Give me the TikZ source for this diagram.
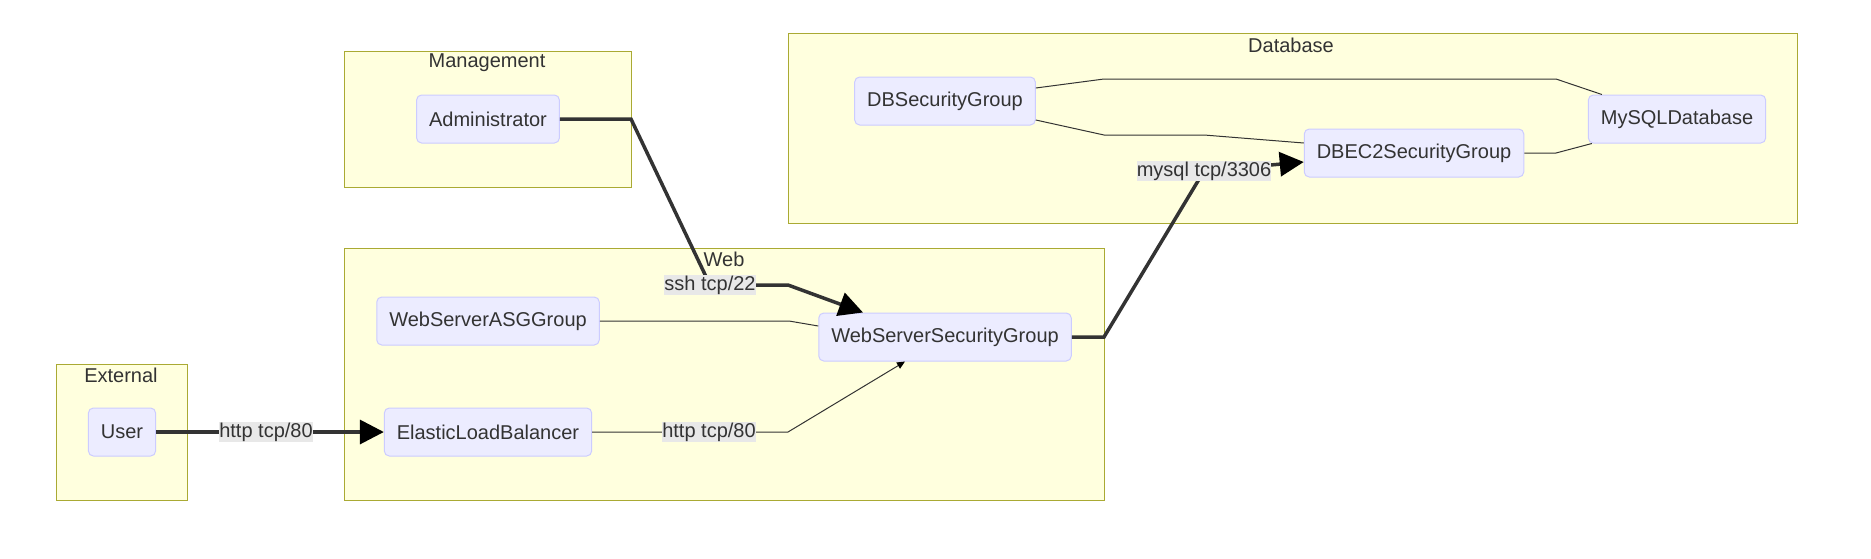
\documentclass[tikz,border=0pt]{standalone}
\usepackage{fontspec}
\setmainfont{Liberation Sans}
\usetikzlibrary{arrows.meta}
\definecolor{clfill}{HTML}{FFFFDE}
\definecolor{cldraw}{HTML}{AAAA33}
\definecolor{ndfill}{HTML}{ECECFF}
\definecolor{nddraw}{HTML}{CCCCFF}
\definecolor{edgec}{HTML}{333333}
\definecolor{lblfill}{HTML}{E8E8E8}
\definecolor{txt}{HTML}{333333}
\tikzset{
  cluster/.style={fill=clfill,draw=cldraw,line width=1pt},
  cltitle/.style={text=txt,inner sep=0pt,font=\fontsize{20}{24}\selectfont},
  box/.style={fill=ndfill,draw=nddraw,line width=1pt,rounded corners=5pt,
    minimum height=48pt,inner xsep=12.5pt,inner ysep=0pt,text=txt,
    font=\fontsize{20}{24}\selectfont},
  lbl/.style={fill=lblfill,inner xsep=0pt,inner ysep=0.5pt,text height=14.5pt,
    text depth=4.5pt,text=txt,font=\fontsize{20}{24}\selectfont},
  thick edge/.style={draw=edgec,line width=3.5pt,
    -{Triangle[length=24pt 0 0,width=24pt 0 0,black]}},
  thickline/.style={draw=edgec,line width=3.5pt},
  thin edge/.style={draw=edgec,line width=1pt,
    -{Triangle[length=8pt 0 0,width=7pt 0 0,black]}},
  thinline/.style={draw=edgec,line width=1pt},
}
\begin{document}
\begin{tikzpicture}[x=1pt,y=-1pt]
\useasboundingbox (0,0) rectangle (1871,558);
% clusters
\draw[cluster] (56,364) rectangle (187,500);
\node[cltitle] (tExt) at (121,375) {External};
\draw[cluster] (344,51) rectangle (631,187);
\node[cltitle] (tMgmt) at (487,63) {Management};
\draw[cluster] (344,248) rectangle (1104,500);
\node[cltitle] (tWeb) at (724,259) {Web};
\draw[cluster] (788,33) rectangle (1797,223);
\node[cltitle] (tDb) at (1291,45) {Database};
% nodes
\node[box] (user) at (122,432) {User};
\node[box] (elb) at (488,432) {ElasticLoadBalancer};
\node[box] (admin) at (488,119) {Administrator};
\node[box] (asg) at (488,321) {WebServerASGGroup};
\node[box] (wssg) at (945,337) {WebServerSecurityGroup};
\node[box] (dbsg) at (945,101) {DBSecurityGroup};
\node[box] (mysql) at (1677,119) {MySQLDatabase};
\node[box] (dbec2) at (1414,153) {DBEC2SecurityGroup};
% label positions
\coordinate (l1) at (266,432);
\coordinate (l2) at (709,432);
\coordinate (l3) at (710,285);
\coordinate (l4) at (1204,171);
% edges
\path[thick edge] (user.east) -- (elb.west);
\path[thin edge] (elb.east) -- (l2) -- (788,432) -- ([xshift=-40pt]wssg.south);
\path[thick edge] (admin.east) -- (631,119) -- (l3) -- (788,285) -- ([xshift=-82pt]wssg.north);
\path[thinline] (asg.east) -- (789,321) -- ([yshift=11pt]wssg.west);
\path[thick edge] (wssg.east) -- (1104,337) -- (l4) -- ([yshift=-9pt]dbec2.west);
\path[thinline] ([yshift=13pt]dbsg.east) -- (1104,79) -- (1556,79) -- ([xshift=14pt]mysql.north west);
\path[thinline] ([yshift=-19pt]dbsg.east) -- (1104,135) -- (1204,135) -- ([yshift=10pt]dbec2.west);
\path[thinline] (dbec2.east) -- (1556,153) -- ([xshift=4pt]mysql.south west);
% labels
\node[lbl] (lab1) at (l1) {http tcp/80};
\node[lbl] (lab2) at (l2) {http tcp/80};
\node[lbl] (lab3) at (l3) {ssh tcp/22};
\node[lbl] (lab4) at (l4) {mysql tcp/3306};
\end{tikzpicture}
\end{document}
